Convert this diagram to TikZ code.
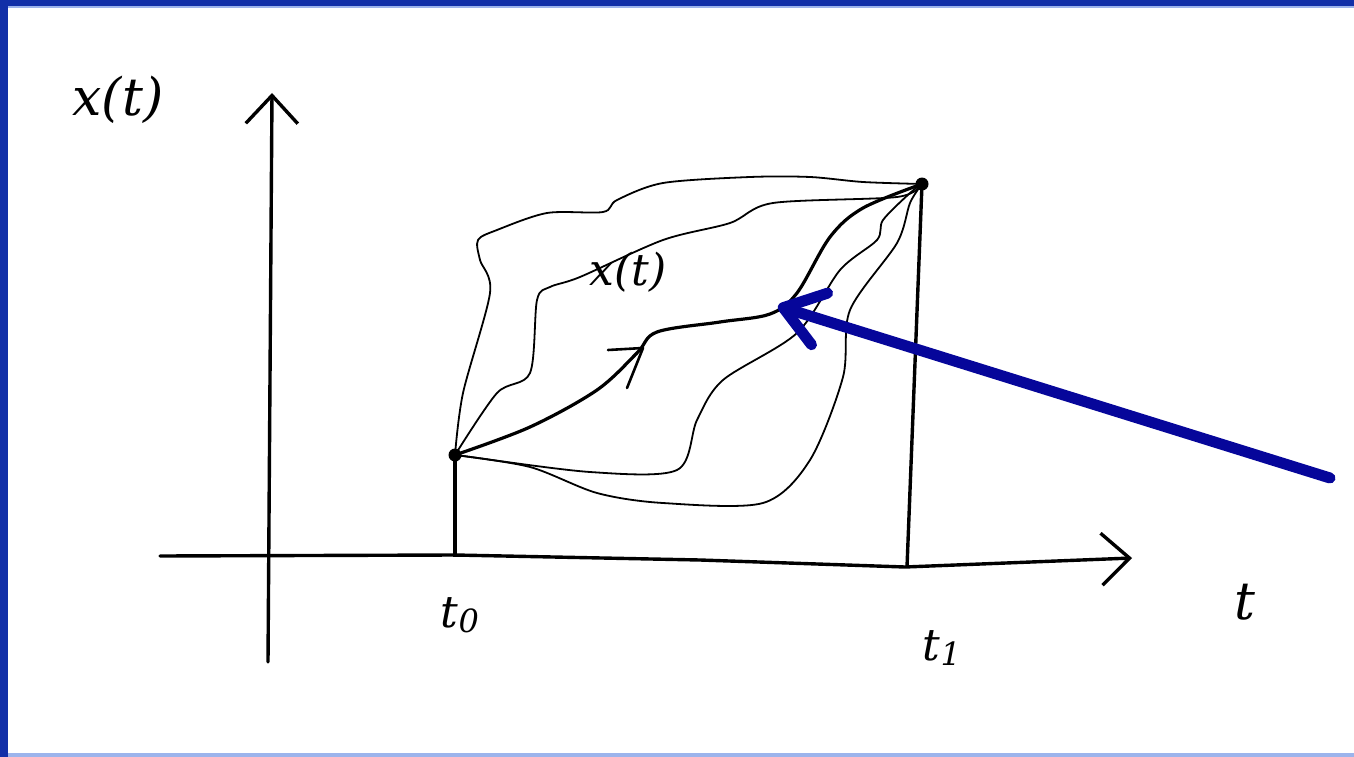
\documentclass[tikz,border=0pt]{standalone}
\usepackage{fontspec}
\setmainfont{DejaVu Serif}
\usetikzlibrary{arrows.meta}
\definecolor{frameblue}{HTML}{1230A8}
\definecolor{lightframe}{HTML}{9CB4EC}
\definecolor{arrowblue}{HTML}{06069A}
\tikzset{
  axis/.style={line width=3.4pt, line cap=round, -{Straight Barb[length=28pt,width=52pt,line width=3.4pt]}},
  drop/.style={line width=3.4pt},
  thinpath/.style={line width=1.8pt, line join=round},
  mainpath/.style={line width=3.2pt, line join=round},
  lbl/.style={font=\itshape\fontsize{52}{56}\selectfont, inner sep=0pt},
  sublbl/.style={font=\itshape\fontsize{44}{48}\selectfont, inner sep=0pt},
  dot/.style={circle, fill=black, minimum size=13pt, inner sep=0pt},
  pointer/.style={arrowblue, line width=11pt, line cap=round, -{Straight Barb[length=38pt,width=54pt,line width=11pt, round]}}
}
\newcommand{\subidx}[1]{\raisebox{-5pt}{\fontsize{32}{34}\selectfont #1}}
\begin{document}
\begin{tikzpicture}[x=1pt,y=-1pt]
\useasboundingbox (0,0) rectangle (1354,757);
% frame
\fill[frameblue] (0,0) rectangle (1354,757);
\fill[lightframe] (8,6) rectangle (1354,757);
\fill[white] (8,8) rectangle (1354,753);
% axes
\coordinate (xs) at (160,556);
\coordinate (xe) at (1132,558);
\coordinate (ys) at (268,662);
\coordinate (ye) at (272,93);
\draw[axis] (ys) -- (ye);
\draw[axis] (xs) -- (455,555) -- (700,560) -- (905,567) -- (xe);
% end points
\node[dot] (p0) at (455,455) {};
\node[dot] (p1) at (922,184) {};
\coordinate (f0) at (455,557);
\coordinate (f1) at (907,567);
\draw[drop] (p0.center) -- (f0);
\draw[drop] (p1.center) -- (f1);
% thin paths
\draw[thinpath] plot[smooth, tension=0.5] coordinates {(455,455) (463,393) (490,293) (480,260) (478,240) (497,230) (547,213) (603,212) (617,200) (663,183) (750,177) (810,177) (863,182) (922,184)};
\draw[thinpath] plot[smooth, tension=0.5] coordinates {(455,455) (497,393) (530,373) (537,300) (550,287) (580,277) (663,240) (730,223) (773,203) (897,197) (922,184)};
\draw[thinpath] plot[smooth, tension=0.5] coordinates {(922,184) (910,193) (883,220) (877,240) (840,270) (797,333) (723,380) (697,420) (677,470) (590,472) (463,456) (455,455)};
\draw[thinpath] plot[smooth, tension=0.5] coordinates {(922,184) (910,203) (897,243) (850,310) (843,377) (810,460) (763,503) (663,503) (597,493) (530,467) (455,455)};
% main path
\draw[mainpath] plot[smooth, tension=0.55] coordinates {(455,455) (530,427) (597,390) (637,353) (657,332) (720,322) (770,314) (797,293) (830,237) (863,208) (922,184)};
% small arrow on main path
\draw[line width=2.6pt, line cap=round, line join=round] (608,350) -- (643,348) -- (627,388);
% labels
\node[lbl] (ylab) at (118,100) {x(t)};
\node[lbl] (tlab) at (1245,602) {t};
\node[sublbl] (t0) at (460,615) {t\subidx{0}};
\node[sublbl] (t1) at (942,648) {t\subidx{1}};
\node[sublbl] (xin) at (628,272) {x(t)};
% pointer
\coordinate (ptail) at (1330,478);
\draw[pointer] (ptail) -- (778,306);
\end{tikzpicture}
\end{document}
